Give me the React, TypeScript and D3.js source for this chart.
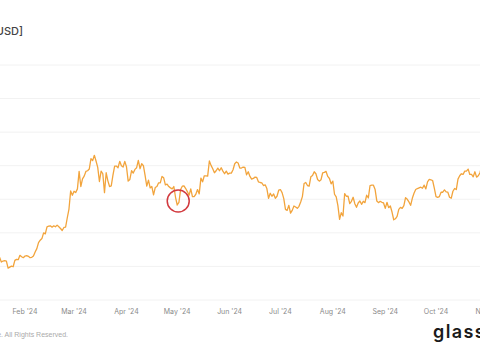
import React from "react";
import * as d3 from "d3";

// BTC daily close price (thousands USD), 2024
const janValues = [46.6, 46.3, 42.8, 42.8, 41.7, 42.5, 43.1, 42.7, 41.3, 41.6, 41.7, 41.6, 39.5, 39.8, 40.1, 39.9, 41.8, 42.1, 42.0, 43.3, 42.9, 42.6]; // from Jan 10
const febValues = [43.1, 43.2, 43.0, 42.6, 42.7, 43.1, 44.3, 45.3, 47.1, 47.8, 48.3, 50.0, 49.7, 51.8, 52.0, 52.1, 51.7, 52.1, 51.8, 52.3, 51.8, 51.3, 50.7, 51.6, 51.7, 54.5, 57.1, 62.5, 61.2];
const marValues = [62.4, 62.0, 63.1, 68.3, 63.8, 66.1, 66.9, 68.3, 68.5, 69.0, 72.1, 71.5, 73.1, 71.4, 69.5, 65.3, 68.4, 67.6, 62.0, 67.9, 65.5, 63.8, 64.0, 67.2, 69.9, 69.9, 69.4, 71.3, 70.0, 69.6, 71.3];
const aprValues = [69.7, 65.4, 65.9, 68.5, 67.8, 68.9, 69.4, 71.6, 69.1, 70.6, 70.0, 67.1, 63.9, 65.7, 63.4, 63.8, 61.3, 63.5, 63.8, 64.9, 64.9, 66.8, 66.4, 64.3, 64.5, 63.8, 63.4, 63.1, 63.8, 60.6];
const mayValues = [58.3, 59.1, 62.9, 63.9, 64.0, 63.2, 62.3, 61.2, 63.1, 60.8, 60.8, 61.5, 62.9, 61.6, 66.3, 65.2, 67.0, 67.0, 66.9, 71.4, 70.1, 69.1, 67.9, 68.5, 69.3, 68.5, 69.4, 68.4, 67.6, 68.4, 67.5];
const junValues = [67.8, 67.8, 68.8, 70.6, 71.1, 70.8, 69.3, 69.3, 69.6, 69.5, 67.3, 68.2, 66.8, 66.0, 66.2, 66.6, 66.5, 65.2, 65.0, 64.9, 64.1, 64.3, 63.2, 60.3, 61.8, 60.9, 61.6, 60.3, 60.9, 62.7];
const julValues = [62.9, 62.0, 60.2, 57.0, 56.7, 58.2, 55.9, 56.7, 58.0, 57.7, 57.3, 57.9, 59.2, 60.8, 64.7, 65.0, 64.1, 63.9, 66.7, 67.1, 68.2, 67.6, 65.9, 65.4, 65.8, 67.9, 68.0, 68.3, 66.8, 66.2, 64.6];
const augValues = [65.4, 61.5, 60.7, 58.1, 54.0, 56.0, 55.0, 61.7, 60.9, 60.9, 58.7, 59.4, 60.6, 58.7, 57.6, 58.9, 59.5, 58.5, 59.4, 59.0, 61.2, 60.4, 64.1, 64.2, 64.2, 62.9, 59.5, 59.0, 59.4, 59.1, 58.9];
const sepValues = [57.3, 59.1, 57.5, 58.0, 56.2, 53.9, 54.2, 54.9, 57.0, 57.6, 57.3, 58.1, 60.5, 60.0, 59.2, 58.2, 60.3, 61.8, 62.9, 63.2, 63.4, 63.6, 63.3, 64.2, 63.1, 65.2, 65.9, 65.8, 65.6, 63.3];
const octValues = [60.8, 60.6, 60.8, 62.1, 62.1, 62.8, 62.2, 62.1, 60.6, 60.3, 62.4, 63.2, 62.9, 66.0, 67.0, 67.6, 67.4, 68.4, 68.4, 69.0, 67.4, 67.4, 66.7, 68.2, 66.6, 67.0, 67.9, 69.9, 72.7, 72.3, 70.2];
const novValues = [69.5];

const yTicks = [30, 40, 50, 60, 70, 80, 90, 100];
const monthTicks = ["2024-02-01", "2024-03-01", "2024-04-01", "2024-05-01", "2024-06-01", "2024-07-01", "2024-08-01", "2024-09-01", "2024-10-01", "2024-11-01"];
const monthLabels = ["Feb '24", "Mar '24", "Apr '24", "May '24", "Jun '24", "Jul '24", "Aug '24", "Sep '24", "Oct '24", "Nov '24"];
const highlightDate = "2024-05-01";
const highlightValue = 58.3;

const W = 480;
const H = 360;

function buildSeries() {
  const parts: [string, number[]][] = [
    ["2024-01-10", janValues],
    ["2024-02-01", febValues],
    ["2024-03-01", marValues],
    ["2024-04-01", aprValues],
    ["2024-05-01", mayValues],
    ["2024-06-01", junValues],
    ["2024-07-01", julValues],
    ["2024-08-01", augValues],
    ["2024-09-01", sepValues],
    ["2024-10-01", octValues],
    ["2024-11-01", novValues],
  ];
  const out: { date: Date; value: number }[] = [];
  for (const [start, vals] of parts) {
    const s = new Date(start + "T00:00:00Z");
    vals.forEach((v, i) => {
      out.push({ date: d3.utcDay.offset(s, i), value: v });
    });
  }
  return out;
}

export default function App() {
  const data = buildSeries();
  const x = d3
    .scaleUtc()
    .domain([new Date("2024-02-01T00:00:00Z"), new Date("2024-10-01T00:00:00Z")])
    .range([25, 436]);
  const y = d3.scaleLinear().domain([30, 100]).range([300, 65]);
  const line = d3
    .line<{ date: Date; value: number }>()
    .x((d) => x(d.date))
    .y((d) => y(d.value))
    .curve(d3.curveLinear);

  const hx = x(new Date(highlightDate + "T00:00:00Z"));
  const hy = y(highlightValue);
  const font = "Inter, 'Open Sans', sans-serif";
  const smallFont = "'Liberation Sans', Arial, sans-serif";

  return (
    <svg
      width={W}
      height={H}
      viewBox={`0 0 ${W} ${H}`}
      style={{ position: "absolute", left: 0, top: 0, background: "#fff" }}
    >
      <rect x={0} y={0} width={W} height={H} fill="#fff" />
      {yTicks.map((t) => (
        <line key={t} x1={0} x2={W} y1={y(t)} y2={y(t)} stroke="#f2f2f2" strokeWidth={1} />
      ))}
      <text x={23} y={35} textAnchor="end" fontFamily={font} fontSize={11} fill="#444" fontWeight={500}>
        Price [USD]
      </text>
      {monthTicks.map((m, i) => (
        <text
          key={m}
          x={x(new Date(m + "T00:00:00Z"))}
          y={313.5}
          textAnchor="middle"
          fontFamily={font}
          fontSize={7}
          fill="#8a8a8a"
        >
          {monthLabels[i]}
        </text>
      ))}
      <path d={line(data) || ""} fill="none" stroke="#f2a43c" strokeWidth={1.3} strokeLinejoin="round" />
      <circle cx={hx + 1} cy={hy - 4} r={11} fill="none" stroke="#d23a3f" strokeWidth={1.5} />
      <text x={68} y={336.5} textAnchor="end" fontFamily={smallFont} fontSize={7} fill="#aaaaaa">
        © 2024 Glassnode. All Rights Reserved.
      </text>
      <text x={433} y={338} fontFamily={font} fontSize={18} fontWeight={600} letterSpacing={1.4} fill="#1a1a1a">
        glassnode
      </text>
    </svg>
  );
}
